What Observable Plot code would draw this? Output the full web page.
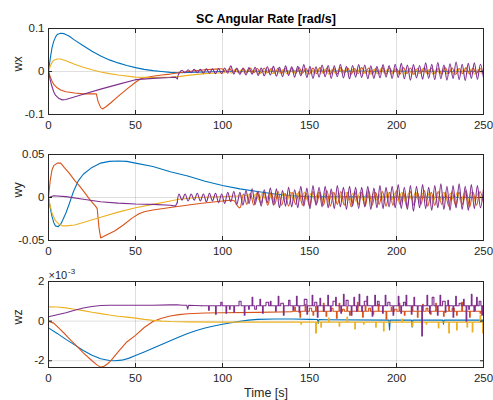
<!DOCTYPE html>
<html><head><meta charset="utf-8">
<script src="https://cdn.jsdelivr.net/npm/d3@7"></script>
<script src="https://cdn.jsdelivr.net/npm/@observablehq/plot@0.6"></script>
<style>
body{margin:0;background:#fff;}
#fig{position:relative;width:493px;height:400px;}
#fig svg{position:absolute;left:0;background:transparent;overflow:visible;}
</style></head><body><div id="fig"></div>
<script>
// ---------- text ----------
const titleText = "SC Angular Rate [rad/s]";
const xLabelText = "Time [s]";
const yLabels = ["wx", "wy", "wz"];
const exponentBase = "×10";
const exponentPow = "-3";
const xTicks = [0, 50, 100, 150, 200, 250];
const wxTicks = [-0.1, 0, 0.1];
const wyTicks = [-0.05, 0, 0.05];
const wzTicks = [-2, 0, 2];
const colors = ["#0072BD", "#D95319", "#EDB120", "#7E2F8E"];

// ---------- wx ----------
const wxBlue = [[0,0],[1,0.03],[2,0.055],[3,0.07],[4,0.08],[5,0.086],[7,0.089],[9,0.088],[12,0.082],[15,0.073],[20,0.06],[25,0.047],[30,0.036],[35,0.027],[40,0.02],[45,0.014],[50,0.009],[55,0.005],[60,0.002],[65,0],[70,-0.002],[75,-0.003],[80,-0.002],[90,-0.001],[100,0],[150,0.001],[250,0]];
const wxOrange = [[0,0],[1,-0.012],[2,-0.022],[3,-0.03],[5,-0.038],[7,-0.043],[10,-0.047],[15,-0.05],[20,-0.052],[27.5,-0.052],[28.5,-0.07],[30,-0.084],[31,-0.087],[33,-0.082],[36,-0.072],[40,-0.058],[45,-0.041],[50,-0.025],[53,-0.017],[56,-0.014],[60,-0.011],[65,-0.008],[70,-0.006],[75,-0.003],[80,0],[90,0.004],[98,0.006]];
const wxOrangeOsc = {t0: 100, dt: 2, v: [
0.006,-0.001,0.007,-0.002,0.006,-0.003,0.007,-0.002,0.008,-0.003,
0.007,-0.004,0.008,-0.003,0.007,-0.004,0.008,-0.005,0.007,-0.004,
0.008,-0.005,0.009,-0.004,0.007,-0.006,0.008,-0.005,0.009,-0.004,
0.008,-0.006,0.007,-0.005,0.009,-0.004,0.008,-0.006,0.007,-0.005,
0.009,-0.004,0.008,-0.006,0.007,-0.005,0.009,-0.006,0.008,-0.004,
0.007,-0.006,0.009,-0.005,0.008,-0.007,0.007,-0.004,0.009,-0.006,
0.008,-0.005,0.007,-0.006,0.009,-0.005,0.008,-0.007,0.007,-0.005,
0.009,-0.006,0.008,-0.005,0.007,-0.006]};
const wxYellow = [[0,0],[1,0.012],[2,0.021],[3,0.026],[5,0.029],[7,0.029],[10,0.025],[15,0.017],[20,0.01],[25,0.004],[30,-0.001],[35,-0.005],[40,-0.008],[50,-0.013],[60,-0.014],[70,-0.013],[75,-0.012],[80,-0.009],[90,-0.005],[99,-0.003]];
const wxYellowOsc = {t0: 101, dt: 2, v: [
-0.003,0.003,-0.004,0.004,-0.003,0.004,-0.004,0.005,-0.004,0.004,
-0.005,0.004,-0.004,0.005,-0.005,0.004,-0.004,0.005,-0.005,0.004,
-0.004,0.006,-0.005,0.005,-0.006,0.004,-0.005,0.006,-0.004,0.005,
-0.006,0.005,-0.005,0.006,-0.004,0.005,-0.006,0.005,-0.005,0.006,
-0.005,0.004,-0.006,0.005,-0.005,0.006,-0.004,0.005,-0.006,0.005,
-0.005,0.006,-0.005,0.004,-0.006,0.005,-0.005,0.006,-0.004,0.005,
-0.006,0.005,-0.005,0.006,-0.005,0.004,-0.006,0.005,-0.005,0.006,
-0.004,0.005,-0.006,0.005,-0.005]};
const wxPurple = [[0,0],[1,-0.02],[2,-0.035],[3,-0.047],[4,-0.055],[6,-0.063],[8,-0.066],[10,-0.065],[20,-0.053],[30,-0.041],[40,-0.03],[50,-0.019],[60,-0.016],[70,-0.014],[73,-0.013],[74,-0.017]];
const wxPurpleOsc = {t0: 75, dt: 1.75, v: [
-0.004,0.003,-0.003,0.004,-0.003,0.005,-0.003,0.005,-0.004,0.006,
-0.004,0.006,-0.005,0.007,-0.005,0.008,-0.004,0.013,-0.006,0.008,
-0.007,0.008,-0.008,0.009,-0.006,0.010,-0.009,0.008,-0.010,0.011,
-0.008,0.012,-0.011,0.010,-0.012,0.013,-0.009,0.011,-0.013,0.012,
-0.010,0.016,-0.014,0.012,-0.016,0.011,-0.013,0.015,-0.012,0.014,
-0.016,0.013,-0.012,0.017,-0.015,0.012,-0.017,0.014,-0.013,0.016,
-0.014,0.015,-0.017,0.013,-0.016,0.012,-0.015,0.016,-0.013,0.014,
-0.016,0.017,-0.014,0.019,-0.017,0.015,-0.020,0.016,-0.015,0.014,
-0.018,0.020,-0.016,0.017,-0.019,0.021,-0.017,0.015,-0.020,0.018,
-0.016,0.022,-0.019,0.017,-0.021,0.019,-0.016,0.020,-0.018,0.017,-0.015]};

// ---------- wy ----------
const wyBlue = [[0,0],[1,-0.012],[2,-0.022],[3,-0.029],[4,-0.033],[5.5,-0.034],[7,-0.031],[8,-0.027],[10,-0.018],[12,-0.007],[13,-0.001],[14,0.005],[15,0.01],[17,0.019],[20,0.027],[25,0.035],[30,0.04],[35,0.042],[40,0.0425],[45,0.042],[50,0.04],[60,0.036],[70,0.03],[80,0.025],[90,0.019],[100,0.014],[110,0.01],[120,0.007],[130,0.004],[140,0.002],[150,0.001],[200,0.0005],[250,0]];
const wyOrange = [[0,0],[1,0.02],[2,0.032],[3,0.037],[5,0.04],[7,0.04],[9,0.035],[12,0.028],[15,0.02],[18,0.013],[21,0.005],[24,-0.003],[27,-0.01],[28,-0.013],[29,-0.035],[30,-0.047],[33,-0.044],[38,-0.039],[43,-0.032],[48,-0.024],[52,-0.019],[55,-0.0165],[60,-0.0145],[72,-0.011],[87,-0.007],[100,-0.004],[105,-0.003],[107,-0.004],[108,-0.008]];
const wyOrangeOsc = {t0: 110, dt: 2, v: [
-0.012,0.004,-0.008,0.005,-0.009,0.006,-0.007,0.005,-0.009,0.006,
-0.008,0.007,-0.009,0.005,-0.010,0.006,-0.008,0.007,-0.009,0.005,
-0.010,0.007,-0.008,0.006,-0.009,0.008,-0.010,0.006,-0.008,0.007,
-0.009,0.006,-0.011,0.007,-0.008,0.006,-0.010,0.008,-0.009,0.006,
-0.008,0.007,-0.010,0.006,-0.009,0.008,-0.008,0.006,-0.011,0.007,
-0.009,0.006,-0.008,0.008,-0.010,0.006,-0.009,0.007,-0.008,0.006,
-0.010,0.007,-0.009,0.006,-0.008,0.008,-0.011,0.006,-0.009,0.007,
-0.006]};
const wyYellow = [[0,0],[1,-0.01],[2,-0.018],[4,-0.027],[6,-0.031],[8,-0.033],[10,-0.033],[15,-0.032],[20,-0.029],[30,-0.023],[40,-0.017],[50,-0.012],[60,-0.008],[70,-0.004],[75,-0.002],[85,0],[100,0.001],[113,0.002]];
const wyYellowOsc = {t0: 115, dt: 2, v: [
0.003,-0.002,0.004,-0.003,0.005,-0.003,0.004,-0.004,0.005,-0.003,
0.005,-0.004,0.006,-0.003,0.005,-0.004,0.006,-0.004,0.005,-0.003,
0.006,-0.004,0.005,-0.005,0.006,-0.003,0.005,-0.004,0.006,-0.004,
0.005,-0.005,0.006,-0.004,0.005,-0.003,0.006,-0.004,0.005,-0.005,
0.006,-0.004,0.005,-0.004,0.006,-0.005,0.005,-0.003,0.006,-0.004,
0.005,-0.004,0.006,-0.005,0.005,-0.004,0.006,-0.003,0.005,-0.004,
0.006,-0.005,0.005,-0.004,0.006,-0.004,0.005,-0.003]};
const wyPurple = [[0,0],[3,0.002],[10,0.001],[20,-0.002],[30,-0.005],[40,-0.0065],[50,-0.0075],[60,-0.008],[70,-0.009],[73,-0.01],[74,-0.006]];
const wyPurpleOsc = {t0: 75, dt: 1.75, v: [
0.004,-0.003,0.004,-0.004,0.004,-0.003,0.005,-0.004,0.004,-0.005,
0.005,-0.004,0.005,-0.006,0.004,-0.007,0.006,-0.005,0.007,-0.008,
0.006,-0.009,0.008,-0.007,0.010,-0.008,0.007,-0.010,0.009,-0.006,
0.011,-0.009,0.010,-0.012,0.008,-0.010,0.012,-0.011,0.009,-0.012,
0.013,-0.010,0.011,-0.013,0.014,-0.009,0.012,-0.011,0.013,-0.012,
0.010,-0.013,0.014,-0.011,0.012,-0.014,0.013,-0.010,0.012,-0.013,
0.012,-0.011,0.013,-0.014,0.011,-0.012,0.014,-0.013,0.012,-0.011,
0.013,-0.012,0.015,-0.013,0.012,-0.014,0.014,-0.016,0.013,-0.012,
0.015,-0.013,0.012,-0.015,0.014,-0.012,0.016,-0.014,0.013,-0.015,
0.014,-0.012,0.016,-0.014,0.013,-0.015,0.015,-0.013,0.014,-0.012,0.010]};

// ---------- wz (x 1e-3) ----------
const wzBlue = [[0,-0.34],[5,-0.62],[10,-0.92],[15,-1.2],[20,-1.48],[25,-1.72],[30,-1.9],[35,-1.99],[38,-2.0],[42,-1.97],[46,-1.88],[50,-1.74],[55,-1.56],[60,-1.37],[65,-1.18],[70,-0.99],[75,-0.8],[80,-0.62],[85,-0.47],[90,-0.35],[95,-0.25],[100,-0.16],[105,-0.08],[110,-0.01],[115,0.05],[120,0.09],[130,0.11],[140,0.11],[150,0.09],[154.6,0.08],[155,-0.12],[155.4,0.08],[160,0.07],[195.6,0.05],[196,-0.45],[196.4,0.05],[208.6,0.05],[209,-0.3],[209.4,0.05],[226.6,0.05],[227,-0.15],[227.4,0.05],[250,0.05]];
const wzOrange = [[0,0],[3,-0.1],[6,-0.35],[10,-0.7],[13,-0.98],[16,-1.24],[20,-1.6],[25,-2.0],[28,-2.22],[30,-2.32],[32,-2.28],[34,-2.15],[36,-1.98],[40,-1.55],[45,-1.05],[50,-0.72],[55,-0.32],[60,-0.02],[65,0.15],[70,0.26],[75,0.33],[80,0.37],[90,0.41],[100,0.42],[120,0.44],[140,0.47]];
// spikes: [time, value, duration]
const wzOrangeBase = 0.5;
const wzOrangeSpikes = [[141.5,0.7,0.4],[144.5,0.2,0.4],[147.5,0.85,0.4],[150,0.65,1.2],[152,0.3,0.4],[153.5,0.75,0.4],[158,0.9,0.4],[159.5,0.25,0.4],[162.5,0.65,1.0],[165.5,0.15,0.4],[167,0.9,0.4],[169,0.6,1.0],[171.5,0.75,0.4],[173,0.3,0.4],[177.5,0.95,0.4],[180.5,0.2,0.4],[182,0.8,0.4],[184,0.65,1.0],[186.5,0.35,0.4],[189.5,0.85,0.4],[194,0.1,0.4],[197,0.7,0.4],[199,0.6,1.2],[201.5,0.9,0.4],[204.5,0.3,0.4],[209,0.75,0.4],[212,0.2,0.4],[215,0.85,0.4],[217,0.65,1.0],[219.5,0.35,0.4],[222.5,0.9,0.4],[227,0.25,0.4],[230,0.8,0.4],[232,0.65,1.2],[234.5,0.3,0.4],[237.5,0.95,0.4],[242,0.2,0.4],[245,0.8,0.4],[248,0.4,0.4]];
const wzYellow = [[0,0.72],[5,0.71],[10,0.67],[15,0.6],[20,0.53],[25,0.45],[30,0.38],[35,0.31],[40,0.25],[45,0.2],[50,0.15],[55,0.09],[60,0.04],[65,0],[70,-0.02],[80,-0.04],[100,-0.05],[140,-0.05]];
const wzYellowBase = -0.05;
const wzYellowSpikes = [[145,-0.15,0.4],[153.5,-0.6,0.5],[156.5,-0.3,0.4],[161,0.15,0.4],[167,-0.25,0.4],[171.5,0.2,0.4],[176,-0.4,0.4],[181,-0.15,0.4],[188,-0.3,0.4],[192.5,-0.5,0.4],[203,0.1,0.4],[209,-0.25,0.4],[217,-0.15,0.4],[224,-0.35,0.4],[230,-0.6,0.4],[234.5,-0.45,0.4],[240.5,-0.3,0.4],[243.5,-0.55,0.4],[248,0.3,0.4],[249.5,-0.6,0.4]];
const wzPurple = [[0,0.22],[5,0.32],[10,0.42],[15,0.55],[20,0.66],[25,0.74],[30,0.79],[35,0.8],[50,0.8],[60,0.8],[70,0.82],[74,0.83],[77,0.8],[79.5,0.8],[80,0.6],[80.5,0.8],[88,0.78]];
const wzPurpleBase = 0.78;
const wzPurpleSpikes = [[92,0.55,0.4],[96,0.35,0.4],[99,0.95,0.8],[102,0.4,0.4],[104,0.6,0.4],[106.5,0.45,0.4],[109.5,1.0,1.2],[112.5,0.3,0.4],[115,0.6,0.4],[117,1.2,0.4],[118.5,0.6,1.0],[121.5,1.1,0.4],[123,0.4,0.4],[125,0.95,1.5],[127.5,1.0,0.4],[130.5,0.5,0.4],[132,1.25,0.4],[133.5,0.9,1.5],[135,0.3,0.4],[138,1.05,0.8],[140.5,0.55,0.4],[142.5,1.25,0.4],[144,0.45,0.4],[147,1.1,1.5],[148.5,0.35,0.4],[151.5,1.3,0.4],[153,0.95,1.2],[154.5,0.2,0.4],[156,1.15,0.4],[158,0.5,0.4],[160.5,1.3,0.4],[162,0.5,0.4],[163.5,1.0,1.5],[165,1.2,0.4],[168,0.4,0.4],[169.5,1.35,0.4],[171,1.05,1.2],[174,0.3,0.4],[175.5,1.2,0.4],[177,0.5,0.4],[178.5,1.35,0.4],[180,0.5,0.4],[181.5,1.0,1.5],[183,1.25,0.4],[186,0.25,0.4],[187.5,1.3,0.4],[189,1.0,1.0],[192,0.4,0.4],[193.5,1.3,0.4],[195,0.95,1.2],[198,0.3,0.4],[201,1.25,0.4],[202.5,0.4,0.4],[204,0.95,1.0],[205.5,1.3,0.4],[208.5,0.35,0.4],[210,1.2,0.4],[212,0.55,0.4],[214.5,-0.75,0.4],[217.5,1.3,0.4],[219,0.4,0.4],[220.5,1.2,1.0],[223.5,0.3,0.4],[225,1.3,0.4],[226.5,1.0,1.5],[228,0.45,0.4],[229.5,1.05,0.4],[232.5,0.2,0.4],[234,1.25,0.4],[236,0.9,1.2],[238.5,1.1,0.4],[240,0.0,0.4],[241.5,0.6,0.4],[243,1.35,0.4],[244.5,0.5,0.4],[246,1.2,0.4],[247.5,1.0,1.0],[249,0.3,0.4]];

// ---------- build ----------
function toPts(pairs) { return pairs.map(([t, v]) => ({t, v})); }
function oscTail(pairs, osc) {
  const last = pairs[pairs.length - 1];
  return [{t: last[0], v: last[1]}, ...osc.v.map((v, i) => ({t: osc.t0 + i * osc.dt, v}))];
}
function spikeTail(pairs, base, spikes, tEnd) {
  const last = pairs[pairs.length - 1];
  const pts = [{t: last[0], v: base}];
  spikes.forEach(([t, v, w]) => { pts.push({t, v}); pts.push({t: t + w, v: base}); });
  pts.push({t: tEnd, v: base});
  return pts;
}
const FONT = "'Liberation Sans', Arial, Helvetica, sans-serif";
const INK = "#262626";
const SW = 1.1;
const fig = document.getElementById("fig");

// entry: [smoothPairs, tailPoints|null, tailCurve]
function lineMarks(list) {
  const marks = [];
  list.forEach(([pairs, tailPts, curve], i) => {
    marks.push(Plot.line(toPts(pairs), {x: "t", y: "v", stroke: colors[i], strokeWidth: SW, clip: true}));
    if (tailPts) marks.push(Plot.line(tailPts, {x: "t", y: "v", stroke: colors[i], strokeWidth: SW, clip: true, curve}));
  });
  return marks;
}

function panel(top, yDomain, yTicks, lines, ylabel, extra) {
  const svg = Plot.plot({
    width: 493, height: 140,
    marginTop: 28, marginBottom: 26, marginLeft: 48, marginRight: 10,
    x: {domain: [0, 250]},
    y: {domain: yDomain},
    style: {background: "transparent", fontFamily: FONT, fontSize: "11.5px", color: INK, overflow: "visible"},
    marks: [
      Plot.gridX(xTicks, {stroke: INK, strokeOpacity: 0.15}),
      Plot.gridY(yTicks, {stroke: INK, strokeOpacity: 0.15}),
      ...lines,
      Plot.frame({stroke: INK, strokeWidth: 1}),
      Plot.axisX(xTicks, {anchor: "bottom", tickSize: 0, tickPadding: 6.5, tickFormat: d => String(d), label: null}),
      Plot.axisX(xTicks, {anchor: "bottom", tickSize: -4, tickFormat: () => "", label: null}),
      Plot.axisX(xTicks, {anchor: "top", tickSize: -4, tickFormat: () => "", label: null}),
      Plot.axisY(yTicks, {anchor: "left", tickSize: 0, tickPadding: 4, tickFormat: d => String(d), label: null}),
      Plot.axisY(yTicks, {anchor: "left", tickSize: -4, tickFormat: () => "", label: null}),
      Plot.axisY(yTicks, {anchor: "right", tickSize: -4, tickFormat: () => "", label: null}),
      Plot.text([ylabel], {frameAnchor: "left", text: d => d, rotate: -90, dx: -31, fontSize: 12.5, fill: INK}),
      ...(extra || [])
    ]
  });
  svg.style.top = top + "px";
  fig.appendChild(svg);
}

const CR = "catmull-rom";
panel(0, [-0.1, 0.1], wxTicks,
  lineMarks([[wxBlue, null], [wxOrange, oscTail(wxOrange, wxOrangeOsc), CR], [wxYellow, oscTail(wxYellow, wxYellowOsc), CR], [wxPurple, oscTail(wxPurple, wxPurpleOsc), CR]]),
  yLabels[0],
  [Plot.text([titleText], {frameAnchor: "top", lineAnchor: "bottom", dy: -6, text: d => d, fontWeight: "bold", fontSize: 12.5, fill: "#000"})]);

panel(126, [-0.05, 0.05], wyTicks,
  lineMarks([[wyBlue, null], [wyOrange, oscTail(wyOrange, wyOrangeOsc), CR], [wyYellow, oscTail(wyYellow, wyYellowOsc), CR], [wyPurple, oscTail(wyPurple, wyPurpleOsc), CR]]),
  yLabels[1]);

panel(253, [-2.34, 2], wzTicks,
  lineMarks([[wzBlue, null],
    [wzOrange, spikeTail(wzOrange, wzOrangeBase, wzOrangeSpikes, 250), "step-after"],
    [wzYellow, spikeTail(wzYellow, wzYellowBase, wzYellowSpikes, 250), "step-after"],
    [wzPurple, spikeTail(wzPurple, wzPurpleBase, wzPurpleSpikes, 250), "step-after"]]),
  yLabels[2],
  [Plot.text([xLabelText], {frameAnchor: "bottom", lineAnchor: "bottom", dy: 29.5, text: d => d, fontSize: 12.5, fill: INK}),
   Plot.text([exponentBase], {frameAnchor: "top-left", textAnchor: "start", lineAnchor: "bottom", dy: -2.5, text: d => d, fontSize: 11, fill: INK}),
   Plot.text([exponentPow], {frameAnchor: "top-left", textAnchor: "start", lineAnchor: "bottom", dx: 19.5, dy: -7.5, text: d => d, fontSize: 8, fill: INK})]);
</script></body></html>
